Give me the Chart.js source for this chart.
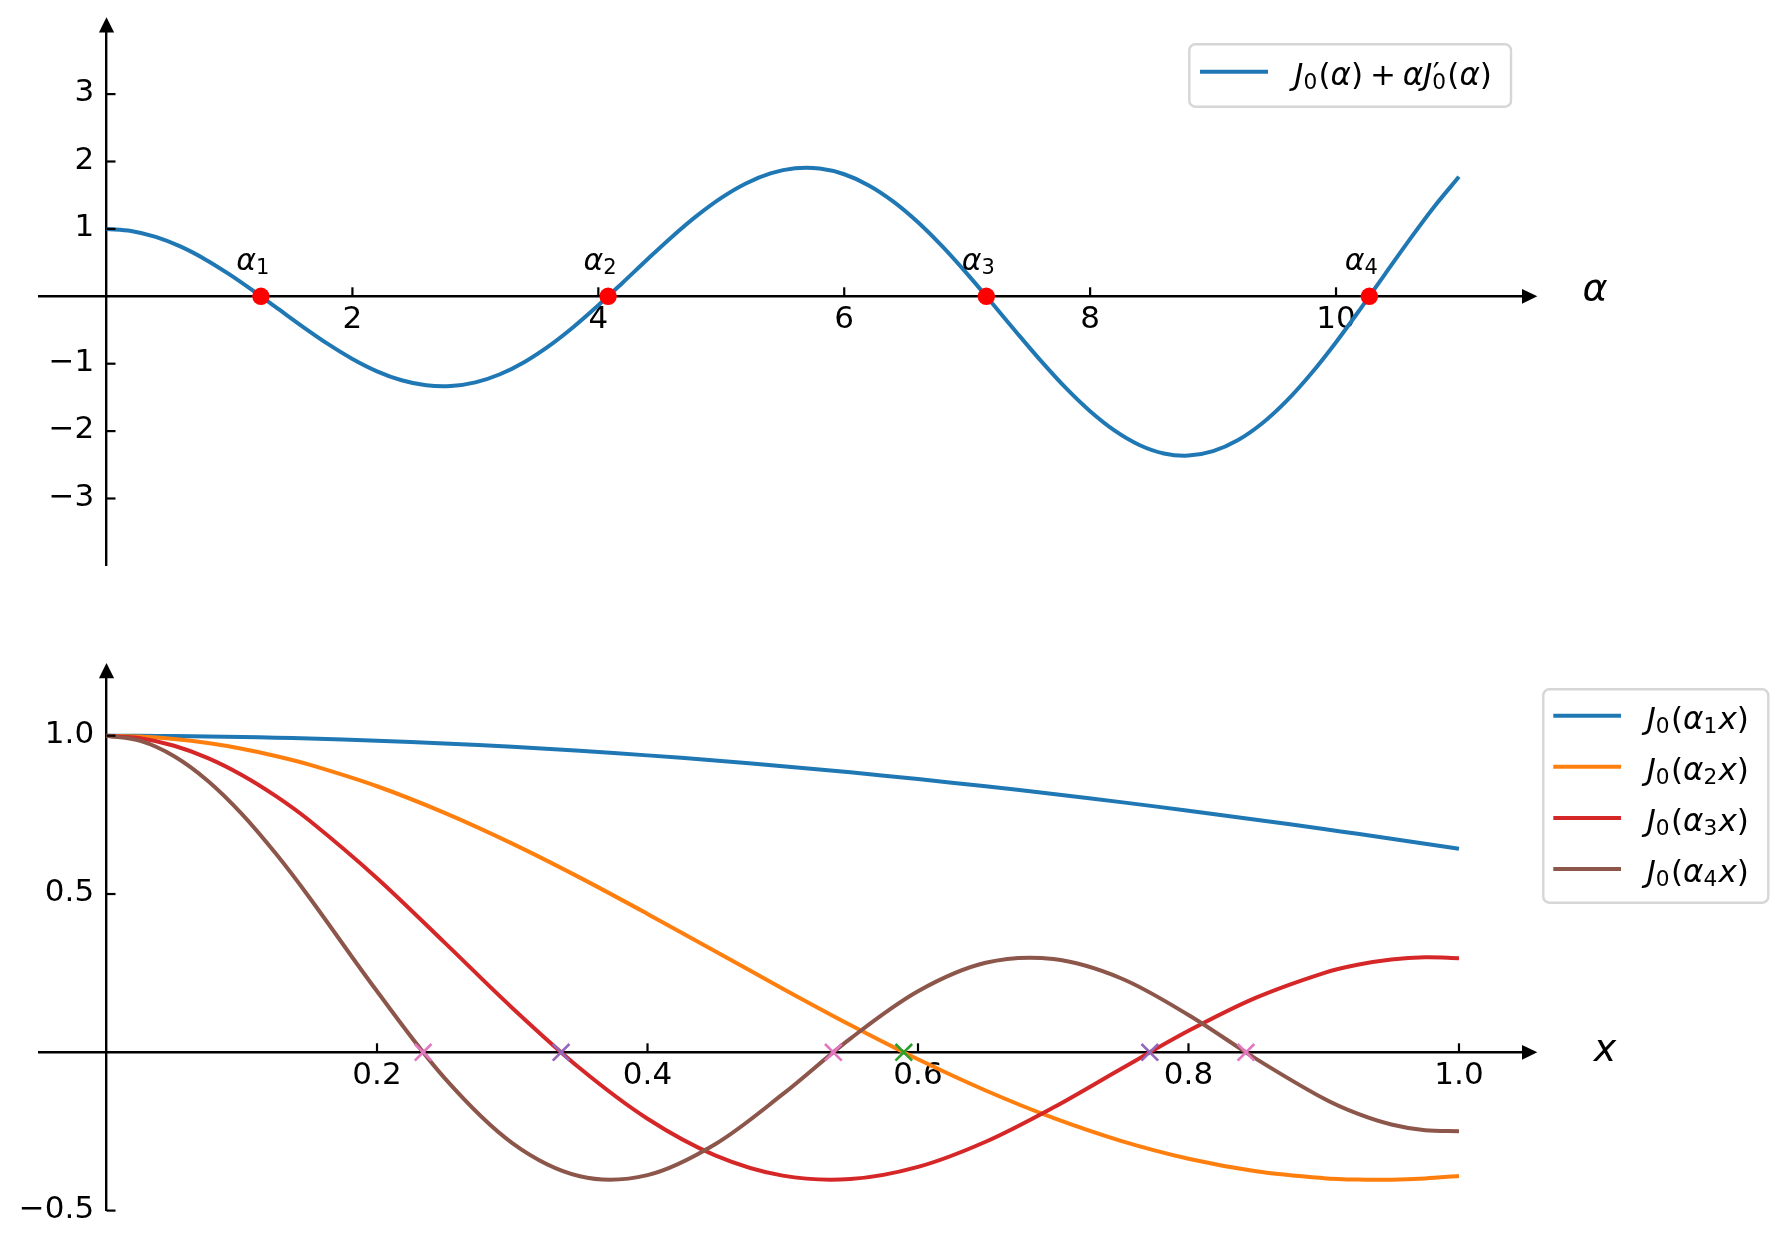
<!DOCTYPE html>
<html>
<head>
<meta charset="utf-8">
<script src="https://cdn.jsdelivr.net/npm/chart.js@4/dist/chart.umd.min.js"></script>
<style>
html,body{margin:0;padding:0;background:#ffffff;}
#wrap{position:relative;width:1786px;height:1245px;overflow:hidden;}
#wrap canvas{position:absolute;left:0;top:0;}
</style>
</head>
<body>
<div id="wrap">
<canvas id="topChart" width="1786" height="1245"></canvas>
<canvas id="bottomChart" width="1786" height="1245"></canvas>
</div>
<script>
// ---------- DATA: top panel, J0(alpha) + alpha*J0'(alpha) ----------
const alphaValues = [0.0,0.2,0.4,0.6,0.8,1.0,1.2,1.4,1.6,1.8,2.0,2.2,2.4,2.6,2.8,3.0,3.2,3.4,3.6,3.8,
  4.0,4.2,4.4,4.6,4.8,5.0,5.2,5.4,5.6,5.8,6.0,6.2,6.4,6.6,6.8,7.0,7.2,7.4,7.6,7.8,
  8.0,8.2,8.4,8.6,8.8,9.0,9.2,9.4,9.6,9.8,10.0,10.2,10.4,10.6,10.8,11.0];
const topValues = [1.0000,0.9701,0.8820,0.7400,0.5513,0.3251,0.0731,-0.1918,-0.4564,-0.7067,
  -0.9295,-1.1128,-1.2460,-1.3209,-1.3322,-1.2774,-1.1564,-0.9736,-0.7356,-0.4512,
  -0.1331,0.2055,0.5500,0.8843,1.1924,1.4604,1.6743,1.8234,1.8991,1.8955,
  1.8108,1.6457,1.4055,1.0990,0.7365,0.3330,-0.0959,-0.5324,-0.9583,-1.3555,
  -1.7051,-1.9934,-2.2055,-2.3315,-2.3633,-2.2980,-2.1368,-1.8838,-1.5482,-1.1417,
  -0.6809,-0.1823,0.3338,0.8451,1.3326,1.7736];
const rootAlphas = [1.2558, 4.0795, 7.1558, 10.2710];
const rootSubscripts = ['1','2','3','4'];
const topXTicks = [2, 4, 6, 8, 10];
const topXTickLabels = ['2', '4', '6', '8', '10'];
const topYTicks = [-3, -2, -1, 1, 2, 3];
const topYTickLabels = ['\u22123', '\u22122', '\u22121', '1', '2', '3'];

// ---------- DATA: bottom panel, J0(alpha_k x) ----------
const xValues = [0.000,0.025,0.050,0.075,0.100,0.125,0.150,0.200,0.250,0.300,0.350,0.400,0.450,
  0.500,0.550,0.600,0.650,0.700,0.750,0.800,0.850,0.900,0.925,0.950,0.975,1.000];
const besselA1 = [1.0000,0.9998,0.9990,0.9978,0.9961,0.9938,0.9911,0.9843,0.9755,0.9648,0.9523,0.9379,0.9218,
  0.9038,0.8843,0.8630,0.8402,0.8159,0.7902,0.7631,0.7348,0.7053,0.6901,0.6746,0.6589,0.6429];
const besselA2 = [1.0000,0.9974,0.9896,0.9767,0.9588,0.9360,0.9086,0.8404,0.7563,0.6591,0.5517,0.4372,0.3192,
  0.2010,0.0862,-0.0221,-0.1207,-0.2073,-0.2796,-0.3360,-0.3755,-0.3975,-0.4021,-0.4024,-0.3985,-0.3907];
const besselA3 = [1.0000,0.9920,0.9683,0.9293,0.8760,0.8098,0.7320,0.5499,0.3464,0.1402,-0.0505,-0.2099,-0.3254,
  -0.3896,-0.4005,-0.3621,-0.2826,-0.1746,-0.0526,0.0679,0.1727,0.2504,0.2763,0.2930,0.2999,0.2972];
const besselA4 = [1.0000,0.9836,0.9352,0.8571,0.7532,0.6284,0.4890,0.1927,-0.0815,-0.2865,-0.3913,-0.3878,-0.2904,
  -0.1323,0.0433,0.1928,0.2827,0.2945,0.2340,0.1179,-0.0206,-0.1461,-0.1940,-0.2282,-0.2465,-0.2491];
const zerosA2 = [0.5895];
const zerosA3 = [0.3361, 0.7714];
const zerosA4 = [0.2341, 0.5374, 0.8425];
const bottomXTicks = [0.2, 0.4, 0.6, 0.8, 1.0];
const bottomXTickLabels = ['0.2', '0.4', '0.6', '0.8', '1.0'];
const bottomYTicks = [-0.5, 0.5, 1.0];
const bottomYTickLabels = ['\u22120.5', '0.5', '1.0'];
const seriesSubscripts = ['1','2','3','4'];

// ---------- helpers ----------
const FAM = '"DejaVu Sans"';
Chart.defaults.font.family = FAM;
Chart.defaults.color = '#000';

function fontStr(italic, size) { return (italic ? 'italic ' : '') + size + 'px ' + FAM; }

// parts: [text, style]; styles: 'r' roman, 'i' italic, 'sub' roman subscript, 'psub' prime+subscript, 'gap' (em)
function drawMath(ctx, parts, x, y, size) {
  let cx = x;
  ctx.textAlign = 'left';
  ctx.textBaseline = 'alphabetic';
  for (const [t, s] of parts) {
    if (s === 'gap') { cx += t * size; continue; }
    if (s === 'sub') {
      ctx.font = fontStr(false, size * 0.7);
      ctx.fillText(t, cx, y + size * 0.14);
      cx += ctx.measureText(t).width + size * 0.04;
      continue;
    }
    if (s === 'psub') {
      ctx.font = fontStr(false, size * 0.7);
      const w0 = ctx.measureText(t).width;
      ctx.fillText(t, cx, y + size * 0.14);
      ctx.font = fontStr(false, size * 0.95);
      ctx.fillText('\u2032', cx + size * 0.02, y - size * 0.02);
      cx += w0 + size * 0.04;
      continue;
    }
    ctx.font = fontStr(s === 'i', size);
    ctx.fillText(t, cx, y);
    cx += ctx.measureText(t).width;
  }
  return cx - x;
}

function roundRect(ctx, x0, y0, x1, y1, r) {
  ctx.beginPath();
  ctx.moveTo(x0 + r, y0);
  ctx.lineTo(x1 - r, y0); ctx.arcTo(x1, y0, x1, y0 + r, r);
  ctx.lineTo(x1, y1 - r); ctx.arcTo(x1, y1, x1 - r, y1, r);
  ctx.lineTo(x0 + r, y1); ctx.arcTo(x0, y1, x0, y1 - r, r);
  ctx.lineTo(x0, y0 + r); ctx.arcTo(x0, y0, x0 + r, y0, r);
  ctx.closePath();
}

const decor = {
  id: 'decor',
  afterDraw(chart, args, o) {
    const ctx = chart.ctx, ca = chart.chartArea;
    const xs = chart.scales.x, ys = chart.scales.y;
    const zx = xs.getPixelForValue(0), zy = ys.getPixelForValue(0);
    ctx.save();
    // inward tick marks
    ctx.strokeStyle = '#000'; ctx.lineWidth = 2.2; ctx.lineCap = 'butt';
    o.xTicks.forEach(v => { const p = xs.getPixelForValue(v); ctx.beginPath(); ctx.moveTo(p, zy); ctx.lineTo(p, zy - 9); ctx.stroke(); });
    o.yTicks.forEach(v => { const p = ys.getPixelForValue(v); ctx.beginPath(); ctx.moveTo(zx, p); ctx.lineTo(zx + 9, p); ctx.stroke(); });
    // y tick labels
    ctx.fillStyle = '#000';
    ctx.font = fontStr(false, 31);
    ctx.textAlign = 'right'; ctx.textBaseline = 'middle';
    o.yTicks.forEach((v, i) => ctx.fillText(o.yLabels[i], zx - 12.4, ys.getPixelForValue(v) - 1));
    // arrow heads
    ctx.beginPath();
    ctx.moveTo(ca.right + 10.7, zy); ctx.lineTo(ca.right - 4.6, zy - 7.4); ctx.lineTo(ca.right - 4.6, zy + 7.4); ctx.closePath(); ctx.fill();
    ctx.beginPath();
    ctx.moveTo(zx, ca.top - 9.5); ctx.lineTo(zx - 7.6, ca.top + 5.8); ctx.lineTo(zx + 7.6, ca.top + 5.8); ctx.closePath(); ctx.fill();
    // axis label
    ctx.font = fontStr(true, 38);
    ctx.textAlign = 'center'; ctx.textBaseline = 'alphabetic';
    ctx.fillText(o.axisLabel, ca.right + o.axisLabelDx, zy + o.axisLabelDy);
    // root labels alpha_k
    if (o.roots) {
      o.roots.forEach((a, i) => {
        drawMath(ctx, [['\u03b1', 'i'], [o.rootSubs[i], 'sub']], xs.getPixelForValue(a - 0.2), ys.getPixelForValue(0.39), 30);
      });
    }
    // legend
    const L = o.legend;
    ctx.fillStyle = 'rgba(255,255,255,0.8)';
    roundRect(ctx, L.box[0], L.box[1], L.box[2], L.box[3], 6);
    ctx.fill();
    ctx.strokeStyle = '#d6d6d6'; ctx.lineWidth = 2.4; ctx.stroke();
    L.rows.forEach((row, i) => {
      const ly = L.lineY + i * L.rowStep;
      ctx.strokeStyle = row.color; ctx.lineWidth = 4;
      ctx.beginPath(); ctx.moveTo(L.lineX0, ly); ctx.lineTo(L.lineX1, ly); ctx.stroke();
      ctx.fillStyle = '#000';
      drawMath(ctx, row.parts, L.textX, ly + 13, 31);
    });
    ctx.restore();
  }
};

function scaleCfg(min, max, posObj, tickVals, tickLabels, showLabels, isX) {
  return {
    type: 'linear', min: min, max: max, bounds: 'data', position: posObj,
    grid: { display: false, drawTicks: false },
    border: { display: true, color: '#000', width: 2.4 },
    ticks: {
      display: showLabels, font: { family: FAM, size: 31 }, color: '#000',
      padding: 5.5, maxRotation: 0, minRotation: 0, autoSkip: false,
      callback: (v, i) => tickLabels[i]
    },
    afterBuildTicks: s => { s.ticks = tickVals.map(v => ({ value: v })); },
    afterFit: s => { if (isX) s.height = 0; else s.width = 0; }
  };
}

const toXY = (xs, ys) => xs.map((x, i) => ({ x: x, y: ys[i] }));
const onAxis = xs => xs.map(x => ({ x: x, y: 0 }));

function lineDs(label, data, color, order) {
  return { label: label, data: data, borderColor: color, backgroundColor: color, borderWidth: 4,
    pointRadius: 0, pointHoverRadius: 0, tension: 0.333, fill: false, order: order, clip: false,
    borderJoinStyle: 'round' };
}
function markDs(label, data, color, style, radius, order) {
  return { label: label, data: data, showLine: false, pointStyle: style, pointRadius: radius,
    pointHoverRadius: radius, borderColor: color, backgroundColor: color,
    pointBorderColor: color, pointBackgroundColor: color,
    pointBorderWidth: style === 'circle' ? 0 : 2.6, order: order, clip: false };
}

// ---------- top chart ----------
new Chart(document.getElementById('topChart'), {
  type: 'line',
  data: {
    datasets: [
      lineDs('J\u2080(\u03b1) + \u03b1J\u2080\u2032(\u03b1)', toXY(alphaValues, topValues), '#1f77b4', 2),
      markDs('roots \u03b1\u2096', onAxis(rootAlphas), '#ff0000', 'circle', 8.7, 1)
    ]
  },
  options: {
    responsive: false, animation: false, devicePixelRatio: 1,
    layout: { autoPadding: false, padding: { left: 38.9, right: 259.4, top: 26.7, bottom: 679.1 } },
    plugins: {
      legend: { display: false }, tooltip: { enabled: false },
      decor: {
        xTicks: topXTicks, yTicks: topYTicks, yLabels: topYTickLabels,
        axisLabel: '\u03b1', axisLabelDx: 68.5, axisLabelDy: 3.8,
        roots: rootAlphas, rootSubs: rootSubscripts,
        legend: {
          box: [1189.3, 44.3, 1511, 106.7], lineX0: 1200, lineX1: 1268, lineY: 71.7, rowStep: 0, textX: 1294.3,
          rows: [{ color: '#1f77b4', parts: [['J','i'],['0','sub'],['(','r'],['\u03b1','i'],[')','r'],[0.22,'gap'],['+','r'],[0.22,'gap'],['\u03b1','i'],['J','i'],['0','psub'],['(','r'],['\u03b1','i'],[')','r']] }]
        }
      }
    },
    scales: {
      x: scaleCfg(-0.55, 11.55, { y: 0 }, topXTicks, topXTickLabels, true, true),
      y: scaleCfg(-4, 4, { x: 0 }, topYTicks, topYTickLabels, false, false)
    }
  },
  plugins: [decor]
});

// ---------- bottom chart ----------
const lineColors = ['#1f77b4', '#ff7f0e', '#d62728', '#8c564b'];
new Chart(document.getElementById('bottomChart'), {
  type: 'line',
  data: {
    datasets: [
      lineDs('J\u2080(\u03b1\u2081x)', toXY(xValues, besselA1), lineColors[0], 6),
      lineDs('J\u2080(\u03b1\u2082x)', toXY(xValues, besselA2), lineColors[1], 5),
      lineDs('J\u2080(\u03b1\u2083x)', toXY(xValues, besselA3), lineColors[2], 4),
      lineDs('J\u2080(\u03b1\u2084x)', toXY(xValues, besselA4), lineColors[3], 3),
      markDs('zeros of J\u2080(\u03b1\u2082x)', onAxis(zerosA2), '#2ca02c', 'crossRot', 11.8, 2),
      markDs('zeros of J\u2080(\u03b1\u2083x)', onAxis(zerosA3), '#9467bd', 'crossRot', 11.8, 1),
      markDs('zeros of J\u2080(\u03b1\u2084x)', onAxis(zerosA4), '#e377c2', 'crossRot', 11.8, 0)
    ]
  },
  options: {
    responsive: false, animation: false, devicePixelRatio: 1,
    layout: { autoPadding: false, padding: { left: 38.9, right: 259.4, top: 672.4, bottom: 34.4 } },
    plugins: {
      legend: { display: false }, tooltip: { enabled: false },
      decor: {
        xTicks: bottomXTicks, yTicks: bottomYTicks, yLabels: bottomYTickLabels,
        axisLabel: 'x', axisLabelDx: 78.4, axisLabelDy: 8.6,
        legend: {
          box: [1543.3, 689.3, 1768.3, 902.7], lineX0: 1553.3, lineX1: 1621, lineY: 715.7, rowStep: 51.1, textX: 1646.7,
          rows: seriesSubscripts.map((s, i) => ({ color: lineColors[i],
            parts: [['J','i'],['0','sub'],['(','r'],['\u03b1','i'],[s,'sub'],['x','i'],[')','r']] }))
        }
      }
    },
    scales: {
      x: scaleCfg(-0.05, 1.05, { y: 0 }, bottomXTicks, bottomXTickLabels, true, true),
      y: scaleCfg(-0.5, 1.2, { x: 0 }, bottomYTicks, bottomYTickLabels, false, false)
    }
  },
  plugins: [decor]
});
</script>
</body>
</html>
